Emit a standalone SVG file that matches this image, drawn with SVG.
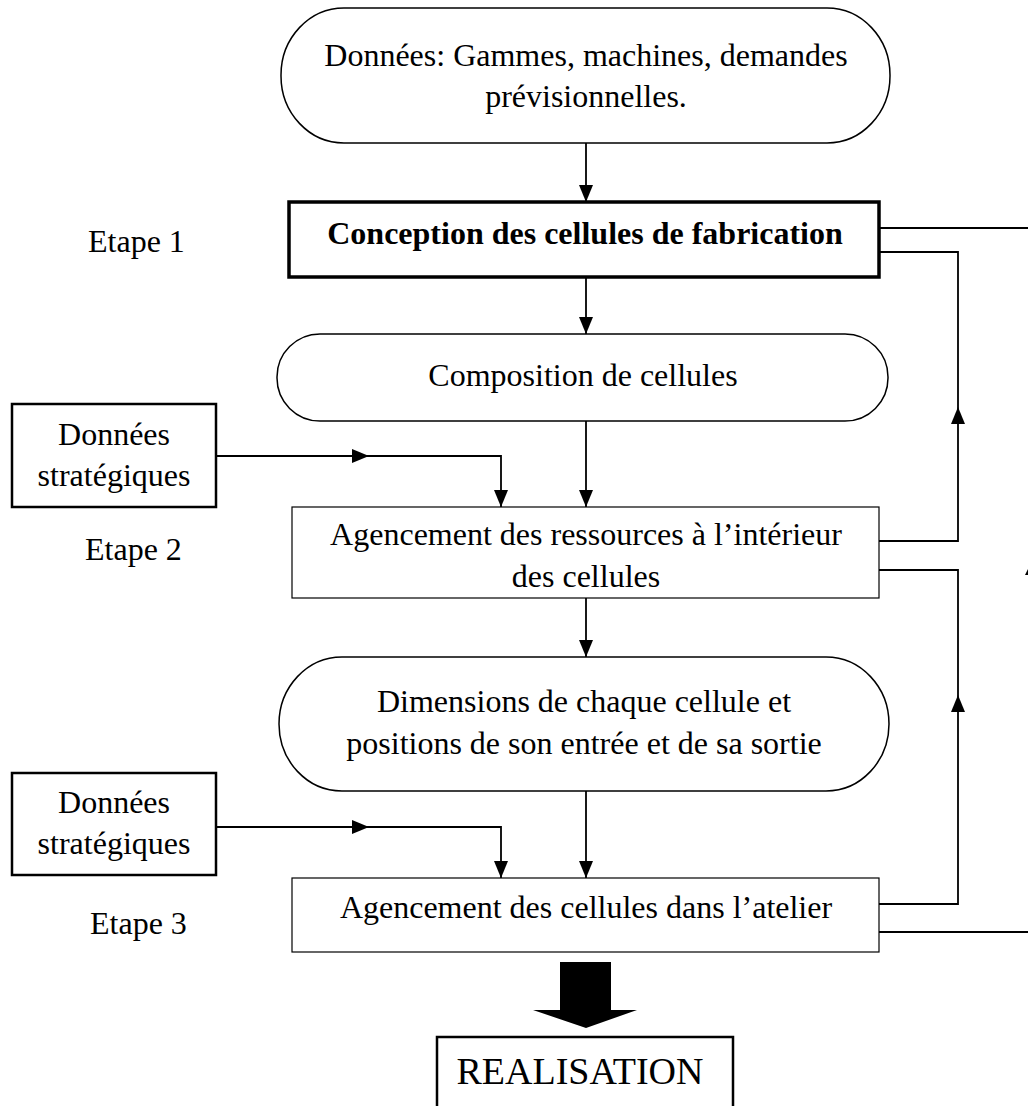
<svg xmlns="http://www.w3.org/2000/svg" width="1028" height="1106" viewBox="0 0 1028 1106">
  <style>
    text { font-family: "Liberation Serif", "Times New Roman", serif; font-size: 32px; fill: #000; }
    .c { text-anchor: middle; }
    .b { font-weight: bold; }
    .stadium { fill: #fff; stroke: #000; stroke-width: 1.5; }
    .thin { fill: #fff; stroke: #000; stroke-width: 1.2; }
    .bold { fill: #fff; stroke: #000; stroke-width: 3.5; }
    .data { fill: #fff; stroke: #000; stroke-width: 2.5; }
    .wire { fill: none; stroke: #000; stroke-width: 1.8; }
    .arr { marker-end: url(#head); }
  </style>
  <defs>
    <marker id="head" markerUnits="userSpaceOnUse" markerWidth="17" markerHeight="14" refX="17" refY="7" orient="auto">
      <path d="M0,0 L17,7 L0,14 z" fill="#000"/>
    </marker>
  </defs>

  <!-- step labels -->
  <g id="labels">
    <text x="88" y="252">Etape 1</text>
    <text x="85" y="560">Etape 2</text>
    <text x="90" y="934">Etape 3</text>
  </g>

  <g id="n-donnees">
    <rect class="stadium" x="281" y="8" width="609" height="135" rx="63" ry="67"/>
    <text class="c" x="586" y="66">Données: Gammes, machines, demandes</text>
    <text class="c" x="586" y="107">prévisionnelles.</text>
  </g>

  <g id="n-conception">
    <rect class="bold" x="289" y="202" width="590" height="75"/>
    <text class="c b" x="585" y="244">Conception des cellules de fabrication</text>
  </g>

  <g id="n-composition">
    <rect class="stadium" x="277" y="334" width="611" height="87" rx="43" ry="43"/>
    <text class="c" x="583" y="386">Composition de cellules</text>
  </g>

  <g id="n-strat1">
    <rect class="data" x="12" y="404" width="204" height="103"/>
    <text class="c" x="114" y="445">Données</text>
    <text class="c" x="114" y="486">stratégiques</text>
  </g>

  <g id="n-agencement-ressources">
    <rect class="thin" x="292" y="507" width="587" height="91"/>
    <text class="c" x="586" y="545">Agencement des ressources à l’intérieur</text>
    <text class="c" x="586" y="587">des cellules</text>
  </g>

  <g id="n-dimensions">
    <rect class="stadium" x="279" y="657" width="610" height="134" rx="63" ry="67"/>
    <text class="c" x="584" y="712">Dimensions de chaque cellule et</text>
    <text class="c" x="584" y="754">positions de son entrée et de sa sortie</text>
  </g>

  <g id="n-strat2">
    <rect class="data" x="12" y="773" width="204" height="102"/>
    <text class="c" x="114" y="813">Données</text>
    <text class="c" x="114" y="854">stratégiques</text>
  </g>

  <g id="n-agencement-cellules">
    <rect class="thin" x="292" y="878" width="587" height="74"/>
    <text class="c" x="586" y="918">Agencement des cellules dans l’atelier</text>
  </g>

  <g id="n-realisation">
    <rect class="data" x="437" y="1037" width="296" height="90"/>
    <text class="c" x="580" y="1084" style="font-size:38px">REALISATION</text>
  </g>

  <g id="connectors">
    <!-- main vertical flow -->
    <path class="wire arr" d="M586,143 V202"/>
    <path class="wire arr" d="M586,277 V334"/>
    <path class="wire arr" d="M586,421 V507"/>
    <path class="wire arr" d="M586,598 V657"/>
    <path class="wire arr" d="M586,791 V878"/>

    <!-- strategic data inputs -->
    <path class="wire arr" d="M216,456 H369"/>
    <path class="wire arr" d="M369,456 H501 V507"/>
    <path class="wire arr" d="M216,827 H369"/>
    <path class="wire arr" d="M369,827 H501 V878"/>

    <!-- feedback loops -->
    <path class="wire arr" d="M879,541 H958 V407"/>
    <path class="wire" d="M958,407 V252 H879"/>
    <path class="wire arr" d="M879,904 H958 V695"/>
    <path class="wire" d="M958,695 V570 H879"/>

    <!-- outer return lines -->
    <path class="wire" d="M879,228 H1028"/>
    <path class="wire" d="M879,932 H1028"/>
    <path d="M1029,567 L1025,575 L1033,575 z" fill="#000"/>

    <!-- block arrow to realisation -->
    <path d="M560,962 H611 V1010 H637 L586,1028 L533,1010 H560 z" fill="#000"/>
  </g>
</svg>
